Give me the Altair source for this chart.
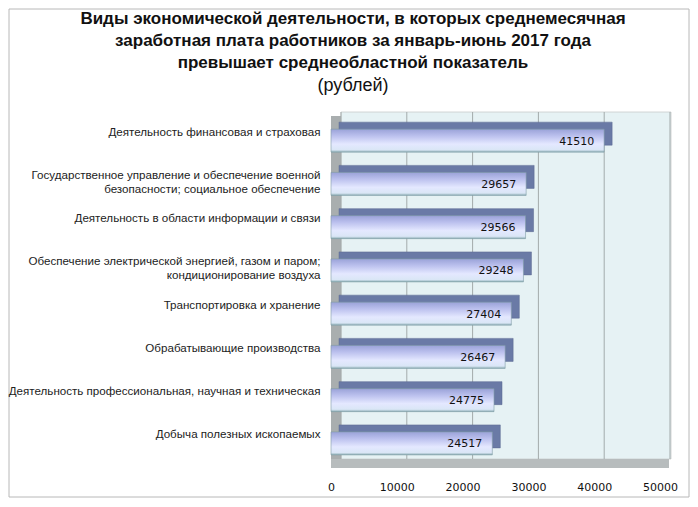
import altair as alt
import pandas as pd

categories = [
    "Деятельность финансовая и страховая",
    "Государственное управление и обеспечение военной|безопасности; социальное обеспечение",
    "Деятельность в области информации и связи",
    "Обеспечение электрической энергией, газом и паром;|кондиционирование воздуха",
    "Транспортировка и хранение",
    "Обрабатывающие производства",
    "Деятельность профессиональная, научная и техническая",
    "Добыча полезных ископаемых",
]
values = [41510, 29657, 29566, 29248, 27404, 26467, 24775, 24517]
x_ticks = [0, 10000, 20000, 30000, 40000, 50000]

title_lines = [
    "Виды экономической деятельности, в которых среднемесячная",
    "заработная плата работников за январь-июнь 2017 года",
    "превышает среднеобластной показатель",
]
subtitle = "(рублей)"

W, H = 329, 346

df = pd.DataFrame({"cat": categories, "value": values})
grid_df = pd.DataFrame({"value": x_ticks})
one = pd.DataFrame({"a": [0]})

xscale = alt.Scale(domain=[0, 50000], nice=False, zero=True)
yscale = alt.Scale(domain=categories, paddingInner=0, paddingOuter=0)

xaxis = alt.Axis(
    title=None, values=x_ticks, format="d", ticks=False, domain=False, grid=False,
    labelPadding=16, labelFont="DejaVu Sans", labelFontSize=11, labelColor="#111",
    labelFlush=False, zindex=2,
)
yaxis = alt.Axis(
    title=None, labelExpr="split(datum.label, '|')", ticks=False, domain=False, grid=False,
    labelPadding=11, labelFont="Liberation Sans", labelFontSize=11.6,
    labelColor="#222", labelLimit=400, labelLineHeight=14, zindex=2,
    labelBaseline="top", labelOffset=-14,
)

X = alt.X("value:Q", scale=xscale, axis=xaxis)
Y = alt.Y("cat:N", scale=yscale, axis=yaxis, sort=None)

frame = alt.Chart(one).mark_rect(fillOpacity=0, stroke="#b8b8b8", strokeWidth=1).encode(
    x=alt.value(-322), x2=alt.value(358), y=alt.value(-110), y2=alt.value(378)
)
back_wall = alt.Chart(one).mark_rect(fill="#e6f2f4", stroke="#c8cccc", strokeWidth=0.8).encode(
    x=alt.value(10), x2=alt.value(340), y=alt.value(-7), y2=alt.value(340)
)
left_wall = alt.Chart(one).mark_rect(fill="#a9aeaf").encode(
    x=alt.value(0), x2=alt.value(10), y=alt.value(-3), y2=alt.value(349)
)
floor = alt.Chart(one).mark_rect(fill="#b7bcbd").encode(
    x=alt.value(0), x2=alt.value(338), y=alt.value(340), y2=alt.value(349)
)
grid = alt.Chart(grid_df).mark_rule(color="#a3abab", strokeWidth=1, xOffset=10).encode(
    x=X, y=alt.value(-7), y2=alt.value(340)
)

depth = alt.Chart(df).mark_bar(
    size=23, color="#6a7aa6", xOffset=8, x2Offset=8, yOffset=-7, y2Offset=-7,
    stroke="#5a6890", strokeWidth=0.5,
).encode(x=X, y=Y)

gradient = alt.Gradient(
    gradient="linear", x1=0, y1=0, x2=0, y2=1,
    stops=[
        alt.GradientStop(offset=0, color="#9aa2d8"),
        alt.GradientStop(offset=0.3, color="#bcc1ee"),
        alt.GradientStop(offset=0.65, color="#e4e8ff"),
        alt.GradientStop(offset=0.9, color="#dae6f6"),
        alt.GradientStop(offset=1, color="#8fb0b6"),
    ],
)
front = alt.Chart(df).mark_bar(size=23, color=gradient, stroke="#7f9ca6", strokeWidth=0.6).encode(
    x=X, y=Y
)
labels = alt.Chart(df).mark_text(
    align="right", baseline="middle", dx=-10, dy=1, font="DejaVu Sans", fontSize=11, color="#111"
).encode(x=X, y=Y, text=alt.Text("value:Q", format="d"))

title_font = "Liberation Sans"
title_mark = alt.Chart(one).mark_text(
    align="center", baseline="middle", font=title_font, fontSize=17, fontWeight="bold",
    color="#111", lineHeight=22,
).encode(x=alt.value(22), y=alt.value(-100), text=alt.value(title_lines))
subtitle_mark = alt.Chart(one).mark_text(
    align="center", baseline="middle", font=title_font, fontSize=18, color="#111",
).encode(x=alt.value(22), y=alt.value(-33), text=alt.value(subtitle))

chart = alt.layer(
    frame, back_wall, left_wall, floor, grid, depth, front, labels, title_mark, subtitle_mark
).properties(
    width=W, height=H,
    autosize=alt.AutoSizeParams(type="none"),
    padding={"left": 323, "top": 111, "right": 30, "bottom": 34},
).configure_view(stroke=None).configure(background="white")

chart.save("out.html", embed_options={"renderer": "svg", "actions": False})
